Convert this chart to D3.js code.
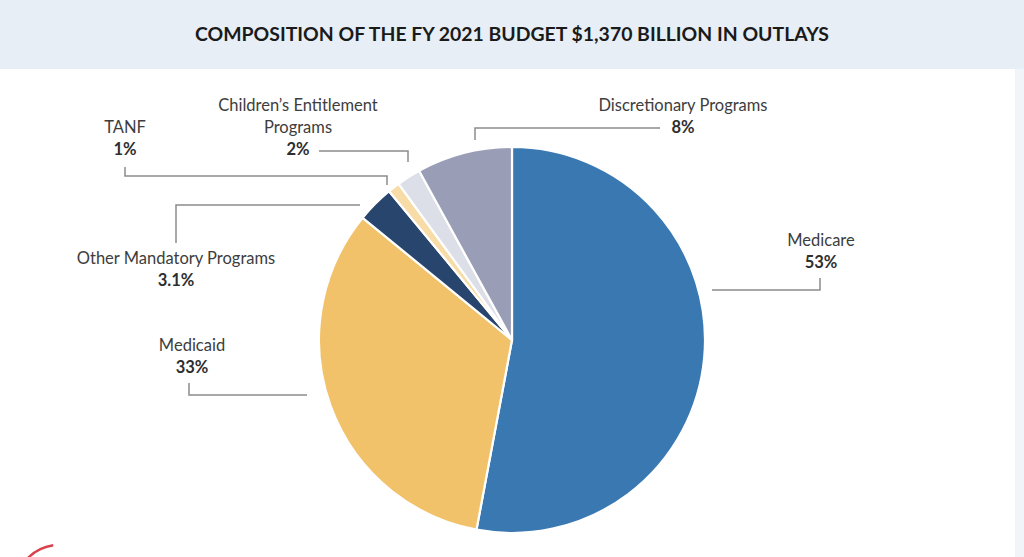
<!DOCTYPE html>
<html><head><meta charset="utf-8">
<script src="https://cdn.jsdelivr.net/npm/d3@7"></script>
<style>html,body{margin:0;padding:0;background:#fff;}svg{display:block;}</style>
</head><body>
<svg id="chart" width="1024" height="557"></svg>
<script>
const title = "COMPOSITION OF THE FY 2021 BUDGET $1,370 BILLION IN OUTLAYS";
const categories = ["Medicare", "Medicaid", "Other Mandatory Programs", "TANF", "Children\u2019s Entitlement Programs", "Discretionary Programs"];
const values = [53, 33, 3.1, 1, 2, 8];
const valueLabels = ["53%", "33%", "3.1%", "1%", "2%", "8%"];
const nameLines = [["Medicare"], ["Medicaid"], ["Other Mandatory Programs"], ["TANF"], ["Children\u2019s Entitlement", "Programs"], ["Discretionary Programs"]];
const colors = ["#3a78b2", "#f2c26b", "#28466d", "#f8dca8", "#dcdfe8", "#999db6"];

// layout for labels (text center x, first line center y) and leader polylines
const layout = [
  {x: 821, y: 240, line: [[712, 290], [820, 290], [820, 278]]},
  {x: 192, y: 345, line: [[307, 395], [189, 395], [189, 383]]},
  {x: 176, y: 258, line: [[360, 205], [176, 205], [176, 243]]},
  {x: 125, y: 127, line: [[125, 167], [125, 176], [387, 176], [387, 185]]},
  {x: 298, y: 105, line: [[319, 151], [408, 151], [408, 162]]},
  {x: 683, y: 105, line: [[660, 128], [475, 128], [475, 140]]}
];

const svg = d3.select("#chart");
const W = 1024, H = 557;

svg.append("rect").attr("x", 0).attr("y", 0).attr("width", W).attr("height", H).attr("fill", "#ffffff");
svg.append("rect").attr("x", 1015).attr("y", 0).attr("width", 9).attr("height", H).attr("fill", "#f1f4f8");
svg.append("rect").attr("x", 0).attr("y", 0).attr("width", W).attr("height", 69).attr("fill", "#e7eef5");

svg.append("text").attr("x", 512).attr("y", 41).attr("text-anchor", "middle")
  .attr("font-family", "Lato, 'Open Sans', sans-serif").attr("font-weight", 700)
  .attr("font-size", 19).attr("fill", "#1a1a1a")
  .attr("textLength", 634).attr("lengthAdjust", "spacingAndGlyphs")
  .text(title);

const cx = 512, cy = 340, R = 193;
const data = categories.map((c, i) => ({name: c, value: values[i], i}));
const pie = d3.pie().value(d => d.value).sort(null);
const arc = d3.arc().innerRadius(0).outerRadius(R);
const g = svg.append("g").attr("transform", `translate(${cx},${cy})`);
g.selectAll("path").data(pie(data)).join("path")
  .attr("d", arc)
  .attr("fill", d => colors[d.data.i])
  .attr("stroke", "#ffffff").attr("stroke-width", 2.2).attr("stroke-linejoin", "round");

// leaders
const lineGen = d3.line();
svg.append("g").selectAll("path").data(layout).join("path")
  .attr("d", d => lineGen(d.line))
  .attr("fill", "none").attr("stroke", "#8c8c8c").attr("stroke-width", 1.5);

// labels
const lg = svg.append("g").attr("font-family", "Lato, 'Open Sans', sans-serif").attr("fill", "#3d3d3d");
data.forEach((d, i) => {
  const L = layout[i];
  const lines = nameLines[i];
  lines.forEach((t, k) => {
    lg.append("text").attr("x", L.x).attr("y", L.y + k * 22).attr("dy", "0.35em")
      .attr("text-anchor", "middle").attr("font-size", 16.5).text(t);
  });
  lg.append("text").attr("x", L.x).attr("y", L.y + lines.length * 22).attr("dy", "0.35em")
    .attr("text-anchor", "middle").attr("font-size", 16.5).attr("font-weight", 700)
    .attr("fill", "#2e2e2e").text(valueLabels[i]);
});

// red arc fragment (logo) bottom-left
const redArc = d3.arc().innerRadius(44).outerRadius(46.5).startAngle(-0.95).endAngle(-0.15);
svg.append("path").attr("transform", "translate(60,590)").attr("d", redArc()).attr("fill", "#d8424c");
</script>
</body></html>
